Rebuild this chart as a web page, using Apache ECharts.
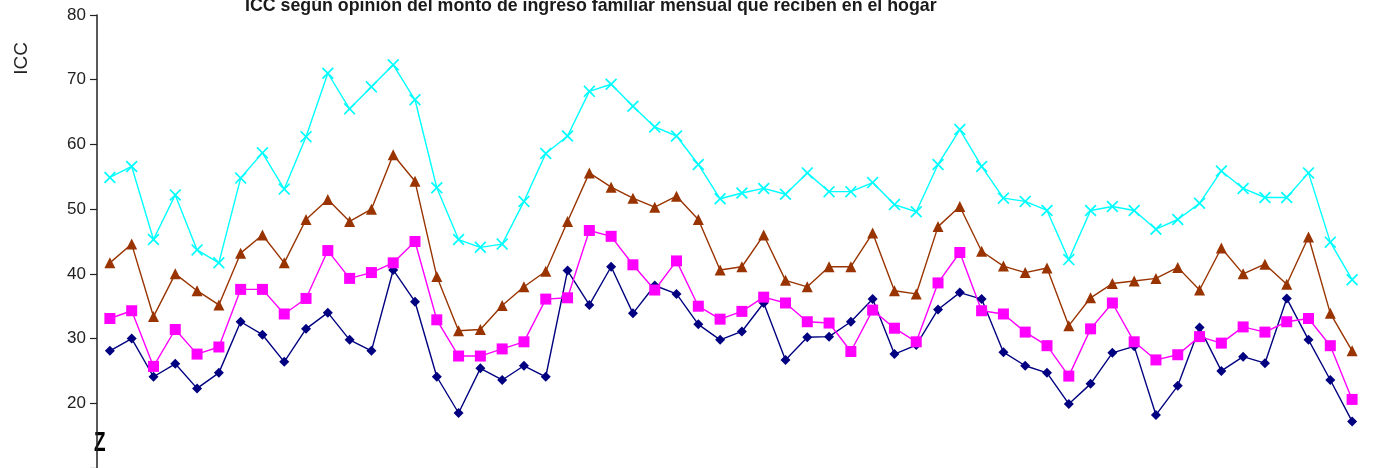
<!DOCTYPE html>
<html>
<head>
<meta charset="utf-8">
<script src="https://cdn.jsdelivr.net/npm/echarts@6/dist/echarts.min.js"></script>
<style>
html,body{margin:0;padding:0;background:#fff;}
#c{width:1374px;height:468px;}
</style>
</head>
<body>
<div id="c"></div>
<script>
// Periods (x-axis labels are cropped out of the reference)
var categories = [];
for (var i = 1; i <= 58; i++) categories.push(String(i));

var yTicks = [10, 20, 30, 40, 50, 60, 70, 80];

var seriesNames = [
  'Les alcanza bien, pueden ahorrar',
  'Les alcanza justo, sin grandes dificultades',
  'No les alcanza, tienen dificultades',
  'No les alcanza, tienen grandes dificultades'
];

var cyanValues = [54.9,56.6,45.3,52.2,43.7,41.7,54.8,58.7,53.1,61.2,71.0,65.5,68.9,72.3,66.9,53.3,45.3,44.1,44.6,51.2,
  58.6,61.3,68.2,69.3,65.9,62.7,61.3,56.9,51.6,52.5,53.2,52.3,55.6,52.7,52.7,54.1,50.7,49.6,56.9,62.3,
  56.6,51.7,51.2,49.8,42.2,49.8,50.4,49.8,46.9,48.4,50.9,55.9,53.2,51.8,51.8,55.6,44.9,39.1];

var brownValues = [41.7,44.6,33.4,40.0,37.4,35.2,43.2,46.0,41.7,48.4,51.5,48.1,50.0,58.4,54.3,39.6,31.2,31.4,35.1,38.0,
  40.4,48.1,55.6,53.4,51.7,50.3,52.0,48.4,40.6,41.1,46.0,39.0,38.0,41.1,41.1,46.3,37.4,36.9,47.3,50.4,
  43.5,41.2,40.2,40.9,32.0,36.3,38.5,38.9,39.3,41.0,37.5,44.0,40.0,41.5,38.4,45.7,33.9,28.1];

var magentaValues = [33.1,34.3,25.7,31.4,27.6,28.7,37.6,37.6,33.8,36.2,43.6,39.3,40.2,41.7,45.0,32.9,27.3,27.3,28.4,29.5,
  36.1,36.3,46.7,45.8,41.4,37.5,42.0,35.0,33.0,34.2,36.4,35.5,32.6,32.4,28.0,34.4,31.6,29.5,38.6,43.3,
  34.3,33.8,31.0,28.9,24.2,31.5,35.5,29.5,26.7,27.5,30.3,29.3,31.8,31.0,32.6,33.1,28.9,20.6];

var navyValues = [28.1,30.0,24.1,26.1,22.3,24.7,32.6,30.6,26.4,31.5,34.0,29.8,28.1,40.6,35.7,24.1,18.5,25.4,23.6,25.8,
  24.1,40.5,35.2,41.1,33.9,38.2,36.9,32.2,29.8,31.1,35.5,26.7,30.2,30.3,32.6,36.1,27.6,29.0,34.5,37.1,
  36.1,27.9,25.8,24.7,19.9,23.0,27.8,28.8,18.2,22.7,31.7,25.0,27.2,26.2,36.2,29.8,23.6,17.2];

var titleText = 'ICC según opinión del monto de ingreso familiar mensual que reciben en el hogar';
var yAxisName = 'ICC';

var FONT = '"Liberation Sans", Arial, sans-serif';
var crossPath = 'path://M0,1 L1,0 L5,4 L9,0 L10,1 L6,5 L10,9 L9,10 L5,6 L1,10 L0,9 L4,5 Z';

function mk(name, data, color, symbol, size) {
  return {
    name: name, type: 'line', data: data,
    symbol: symbol, symbolSize: size, showSymbol: true,
    lineStyle: { color: color, width: 1.4 },
    itemStyle: { color: color },
    emphasis: { disabled: true },
    animation: false
  };
}

var chart = echarts.init(document.getElementById('c'));
chart.setOption({
  backgroundColor: '#ffffff',
  animation: false,
  title: {
    text: titleText, left: 240, top: -8,
    textStyle: { fontFamily: FONT, fontWeight: 'bold', fontSize: 17.8, color: '#1a1a1a' }
  },
  grid: { left: 99, right: 11, top: 15, bottom: 0, containLabel: false },
  xAxis: {
    type: 'category', data: categories, boundaryGap: true,
    axisLine: { show: false }, axisTick: { show: false }, axisLabel: { show: false }
  },
  yAxis: {
    type: 'value', min: yTicks[0], max: yTicks[yTicks.length - 1], interval: 10, offset: 2,
    axisLine: { show: true, lineStyle: { color: '#222', width: 1.5 } },
    axisTick: { show: true, length: 7, lineStyle: { color: '#222', width: 1.2 } },
    splitLine: { show: false },
    axisLabel: {
      fontFamily: FONT, fontSize: 17, color: '#222', margin: 11,
      formatter: function (v) { return v === yTicks[0] ? '' : String(v); }
    }
  },
  graphic: [
    { type: 'text', left: 12, top: 42, rotation: Math.PI / 2,
      style: { text: yAxisName, font: '19px "Liberation Sans", Arial, sans-serif', fill: '#222' } },
    { type: 'text', left: 94, top: 430, scaleX: 0.7,
      style: { text: 'Z', font: 'bold 27px "Liberation Sans", Arial, sans-serif', fill: '#000' } }
  ],
  series: [
    mk(seriesNames[3], navyValues, '#000080', 'diamond', 10),
    mk(seriesNames[2], magentaValues, '#FF00FF', 'rect', 11),
    mk(seriesNames[1], brownValues, '#993300', 'triangle', 11),
    mk(seriesNames[0], cyanValues, '#00FFFF', crossPath, 12)
  ]
});
</script>
</body>
</html>
